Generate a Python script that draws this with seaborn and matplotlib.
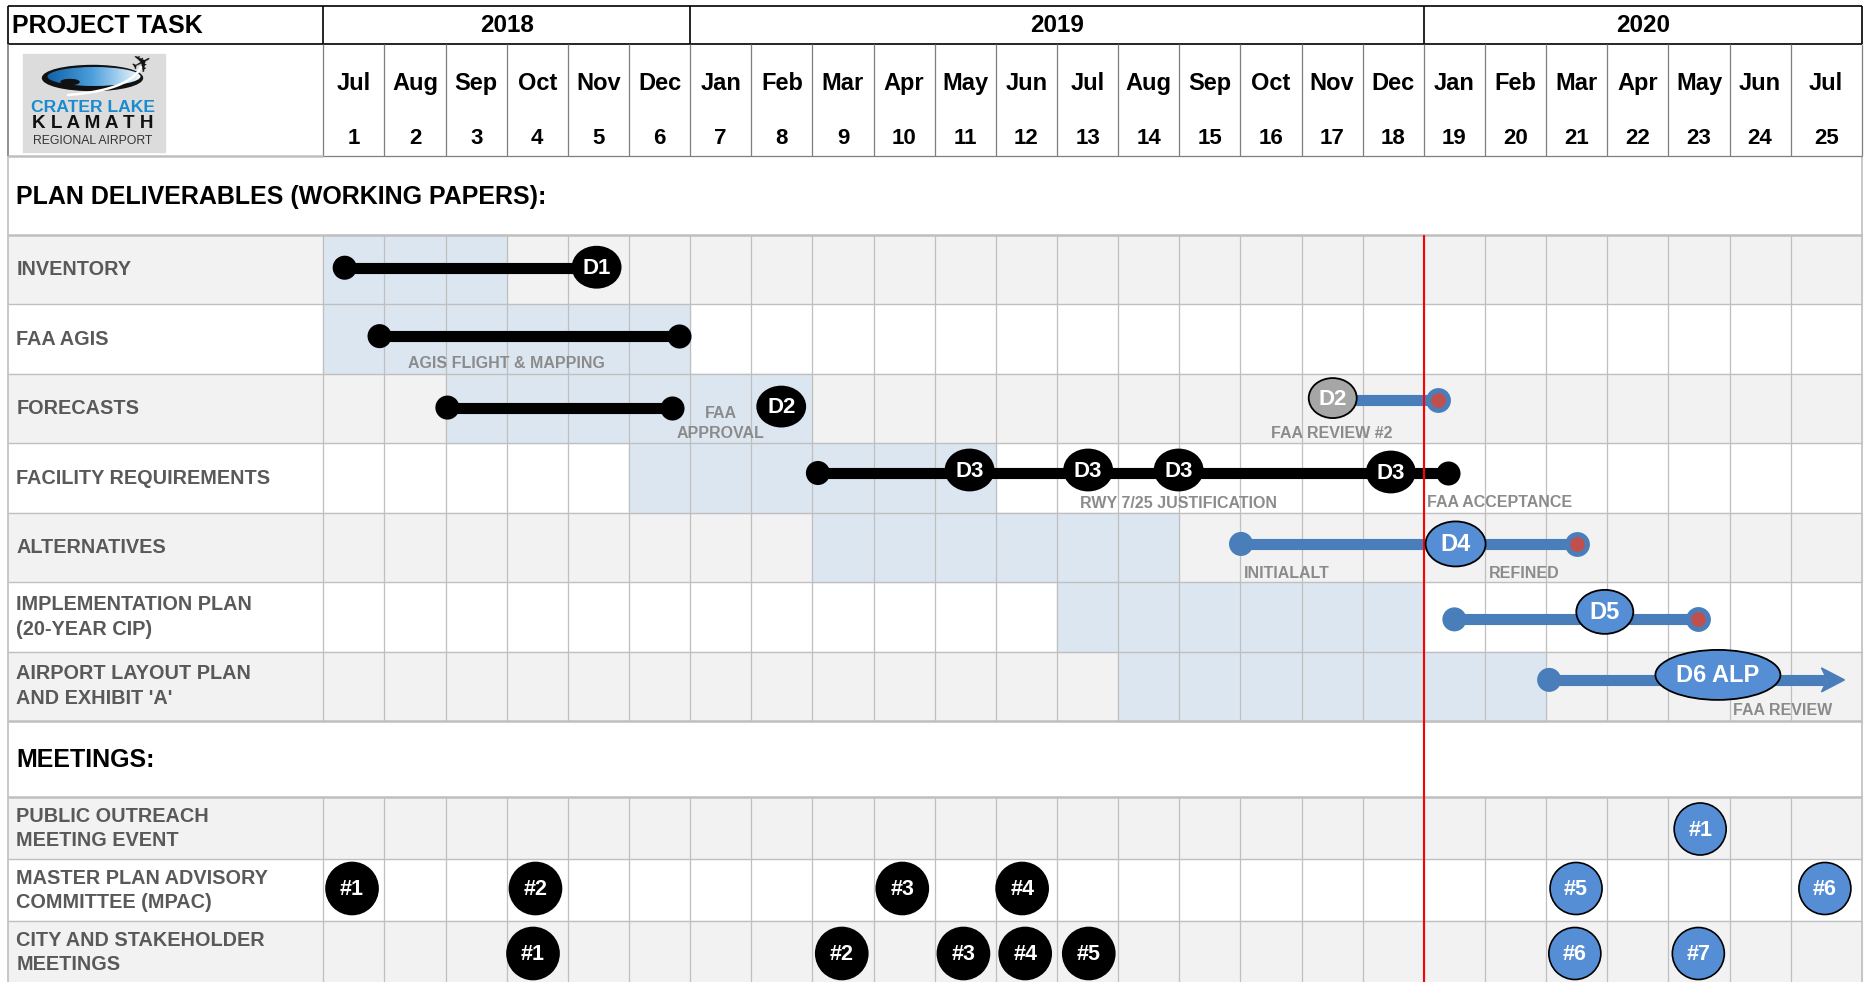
import matplotlib
matplotlib.use("Agg")
import matplotlib.pyplot as plt
from matplotlib.patches import Ellipse, Rectangle, Polygon
from matplotlib.colors import LinearSegmentedColormap
import numpy as np
import pandas as pd
import seaborn as sns

# ---------------- data ----------------
months = ["Jul", "Aug", "Sep", "Oct", "Nov", "Dec",
          "Jan", "Feb", "Mar", "Apr", "May", "Jun", "Jul", "Aug", "Sep", "Oct", "Nov", "Dec",
          "Jan", "Feb", "Mar", "Apr", "May", "Jun", "Jul"]
years = ["2018", "2019", "2020"]
year_first_col = [0, 6, 18]
today = 18  # status line = start of Jan 2020

tasks = ["INVENTORY", "FAA AGIS", "FORECASTS", "FACILITY REQUIREMENTS", "ALTERNATIVES",
         "IMPLEMENTATION PLAN\n(20-YEAR CIP)", "AIRPORT LAYOUT PLAN\nAND EXHIBIT 'A'"]
shade_start = [0, 0, 2, 5, 8, 12, 13]
shade_end = [3, 6, 8, 11, 14, 18, 20]

# schedule bars, in months from Jul 2018
bar_task = [0, 1, 2, 2, 3, 4, 5, 6]
bar_start = [0.35, 0.92, 2.03, 16.51, 8.09, 15.01, 18.50, 20.05]
bar_end = [4.47, 5.82, 5.70, 18.24, 18.39, 20.50, 22.49, 24.88]
bar_kind = ["done", "done", "done", "future", "done", "future", "future", "future"]
bar_start_dot = [True, True, True, False, True, True, True, True]
bar_end_mark = ["none", "dot", "dot", "red", "dot", "red", "red", "arrow"]

# deliverable milestones
ms_task = [0, 2, 2, 3, 3, 3, 3, 4, 5, 6]
ms_x = [4.47, 7.49, 16.51, 10.57, 12.51, 13.99, 17.46, 18.52, 20.96, 22.81]
ms_label = ["D1", "D2", "D2", "D3", "D3", "D3", "D3", "D4", "D5", "D6 ALP"]
ms_kind = ["done", "done", "review", "done", "done", "done", "done", "future", "future", "future"]

# notes under the bars
note_task = [1, 2, 2, 3, 3, 4, 4, 6]
note_x = [3.0, 6.50, 16.5, 13.99, 18.05, 15.05, 19.06, 23.06]
note_text = ["AGIS FLIGHT & MAPPING", "FAA\nAPPROVAL", "FAA REVIEW #2", "RWY 7/25 JUSTIFICATION",
             "FAA ACCEPTANCE", "INITIALALT", "REFINED", "FAA REVIEW"]
note_ha = ["center", "center", "center", "center", "left", "left", "left", "left"]

meetings = ["PUBLIC OUTREACH\nMEETING EVENT", "MASTER PLAN ADVISORY\nCOMMITTEE (MPAC)",
            "CITY AND STAKEHOLDER\nMEETINGS"]
public_x = [22.52]
mpac_x = [0.47, 3.47, 9.47, 11.43, 20.49, 24.56]
city_x = [3.43, 8.48, 10.47, 11.48, 12.52, 20.47, 22.49]
meeting_x = [public_x, mpac_x, city_x]

# ---------------- layout (pixels) ----------------
W, H = 1865, 982
X0, CW = 323.3, 61.14
LEFT, RIGHT = 7.5, 1861.7
TOP, HEAD1, HEAD2, SEC1 = 5.5, 44, 156, 235
TASK_H = 69.43
SEC2 = SEC1 + len(tasks) * TASK_H
MEET0, MEET_H = 797, 62


def u(px):
    return (px - X0) / CW


col_edges = list(range(25)) + [u(RIGHT)]
task_top = [SEC1 + i * TASK_H for i in range(len(tasks))]
task_c = [t + TASK_H / 2 for t in task_top]
meet_top = [MEET0 + i * MEET_H for i in range(len(meetings))]
meet_c = [t + MEET_H / 2 for t in meet_top]

bar_dy = [-2, -3, -1, -9, -5, -3.5, 2.5, -6.4]
ms_dy = [-2.5, -2, -10.5, -8, -8, -8, -6, -3.5, -5, -11.4]
note_dy = [-10, -19.3, -9.3, -9.3, -10, -9, -9, -11]
meet_dy = [1, -1.5, 1.5]
ms_size = {"D1": (48, 41), "D2": (48, 40), "D3": (48, 41), "D4": (60, 45),
           "D5": (57, 44), "D6 ALP": (125, 50)}

BLACK = "#000000"
BLUE_LINE = "#4A7EBB"
BLUE_FILL = "#558ED5"
RED_DOT = "#C0504D"
GRID = "#BFBFBF"
ROW_GRAY = "#F2F2F2"
SHADE = "#DCE6F1"
LABEL = "#595959"
NOTE = "#8B8B8B"

sns.set_theme(style="white")
plt.rcParams["font.family"] = ["Liberation Sans", "DejaVu Sans"]

fig = plt.figure(figsize=(W / 100, H / 100), dpi=100)
ax = fig.add_axes([0, 0, 1, 1])
xl, xr = u(LEFT), u(RIGHT)

# backgrounds
ax.add_patch(Rectangle((u(0), 0), u(W) - u(0), H, color="white", zorder=0))
for i in range(len(tasks)):
    ax.add_patch(Rectangle((xl, task_top[i]), xr - xl, TASK_H,
                           color=ROW_GRAY if i % 2 == 0 else "white", zorder=0.5))
    ax.add_patch(Rectangle((shade_start[i], task_top[i]), shade_end[i] - shade_start[i], TASK_H,
                           color=SHADE, zorder=0.6))
for i in range(len(meetings)):
    ax.add_patch(Rectangle((xl, meet_top[i]), xr - xl, MEET_H,
                           color=ROW_GRAY if i % 2 == 0 else "white", zorder=0.5))

# grid
ax.vlines(col_edges[:-1], SEC1, SEC2, color=GRID, lw=0.9, zorder=1)
ax.vlines(col_edges[:-1], MEET0, H, color=GRID, lw=0.9, zorder=1)
ax.hlines(task_top[1:], xl, xr, color=GRID, lw=1.0, zorder=1)
ax.hlines(meet_top[1:], xl, xr, color=GRID, lw=1.0, zorder=1)
ax.hlines([SEC1, SEC2, MEET0], xl, xr, color=GRID, lw=1.8, zorder=1.2)
ax.vlines([xl, xr], HEAD2, H, color=GRID, lw=1.2, zorder=1.2)

# header frame
ax.hlines([TOP, HEAD1], xl, xr, color=BLACK, lw=1.2, zorder=2)
ax.vlines([xl, 0, 6, 18, xr], TOP, HEAD1, color=BLACK, lw=1.2, zorder=2)
ax.vlines(col_edges, HEAD1, HEAD2, color="#7F7F7F", lw=0.9, zorder=2)
ax.vlines(xl, HEAD1, HEAD2, color="#7F7F7F", lw=1.2, zorder=2)
ax.hlines(HEAD2, xl, 0, color=GRID, lw=1.8, zorder=2)
ax.hlines(HEAD2, 0, xr, color="#7F7F7F", lw=0.9, zorder=2)

# header text
ax.text(u(12.5), (TOP + HEAD1) / 2 + 1, "PROJECT TASK", fontsize=18, fontweight="bold",
        ha="left", va="center", color=BLACK)
year_edges = year_first_col + [col_edges[-1]]
for k, yr in enumerate(years):
    ax.text((year_edges[k] + year_edges[k + 1]) / 2, (TOP + HEAD1) / 2 + 1, yr,
            fontsize=17.5, fontweight="bold", ha="center", va="center", color=BLACK)
for k, m in enumerate(months):
    cx = (col_edges[k] + col_edges[k + 1]) / 2
    ax.text(cx, 83, m, fontsize=17, fontweight="bold", ha="center", va="center", color=BLACK)
    ax.text(cx, 138, str(k + 1), fontsize=16, fontweight="bold", ha="center", va="center",
            color=BLACK)

# logo
ax.add_patch(Rectangle((u(22.7), 54), (165 - 22.7) / CW, 97.7, color="#DCDCDC", zorder=2))
ax.add_patch(Ellipse((u(92.5), 78), 100 / CW, 25, color="#111111", zorder=2.1))
lake = Ellipse((u(94), 76.5), 93 / CW, 19, facecolor="none", edgecolor="none", zorder=2.2)
ax.add_patch(lake)
grad = ax.imshow(np.linspace(0, 1, 64)[None, :],
                 cmap=LinearSegmentedColormap.from_list("lake", ["#0D5DA6", "#4FA0DD", "#F4FAFF"]),
                 extent=(u(44), u(142), 87, 66), aspect="auto", zorder=2.2)
grad.set_clip_path(lake)
ax.add_patch(Ellipse((u(70), 82), 18 / CW, 5, color="#111111", zorder=2.3))
t = np.linspace(0, 1, 30)
sx = (1 - t) ** 2 * 68 + 2 * (1 - t) * t * 130 + t ** 2 * 141
sy = (1 - t) ** 2 * 95 + 2 * (1 - t) * t * 90 + t ** 2 * 67
ax.plot(u(sx), sy, color="white", lw=1.8, zorder=2.4)
ax.text(u(143), 64.5, "\u2708", family="DejaVu Sans", fontsize=18, rotation=28,
        ha="center", va="center", color="#111111", zorder=2.5)
ax.text(u(93), 107, "CRATER LAKE", fontsize=12.6, fontweight="bold", color="#1A8BD0",
        ha="center", va="center", zorder=2.5)
ax.text(u(93), 123.5, "K L A M A T H", fontsize=13.6, fontweight="bold", color="#111111",
        ha="center", va="center", zorder=2.5)
ax.text(u(93), 140.5, "REGIONAL AIRPORT", fontsize=8.8, color="#333333",
        ha="center", va="center", zorder=2.5)


def stacked(x, yc, text, gap, **kw):
    lines = text.split("\n")
    n = len(lines)
    for k, line in enumerate(lines):
        ax.text(x, yc + (k - (n - 1) / 2) * gap, line, va="center", **kw)


# section + row labels
ax.text(u(16.5), (HEAD2 + SEC1) / 2 + 1, "PLAN DELIVERABLES (WORKING PAPERS):", fontsize=18,
        fontweight="bold", ha="left", va="center", color=BLACK)
ax.text(u(16.5), (SEC2 + MEET0) / 2 + 1, "MEETINGS:", fontsize=18, fontweight="bold",
        ha="left", va="center", color=BLACK)
for i, name in enumerate(tasks):
    stacked(u(16.5), task_c[i], name, 25, fontsize=14.3, fontweight="bold", color=LABEL,
            ha="left", zorder=3)
for i, name in enumerate(meetings):
    stacked(u(16.5), meet_c[i], name, 24, fontsize=14.3, fontweight="bold", color=LABEL,
            ha="left", zorder=3)

# status line
ax.vlines(today, SEC1, H, color="#FF0000", lw=1.5, zorder=4)

# bars
head_len = 23 / CW
rows = []
for i in range(len(bar_task)):
    y = task_c[bar_task[i]] + bar_dy[i]
    end = bar_end[i] - head_len * 0.8 if bar_end_mark[i] == "arrow" else bar_end[i]
    rows.append({"bar": i, "x": bar_start[i], "y": y, "kind": bar_kind[i]})
    rows.append({"bar": i, "x": end, "y": y, "kind": bar_kind[i]})
seg = pd.DataFrame(rows)
sns.lineplot(data=seg, x="x", y="y", units="bar", estimator=None, hue="kind",
             palette={"done": BLACK, "future": BLUE_LINE}, linewidth=8, sort=False,
             legend=False, ax=ax, zorder=3, solid_capstyle="butt")

bar_y = [task_c[bar_task[i]] + bar_dy[i] for i in range(len(bar_task))]
bar_col = [BLACK if k == "done" else BLUE_LINE for k in bar_kind]
sx_ = [bar_start[i] for i in range(len(bar_task)) if bar_start_dot[i]]
sy_ = [bar_y[i] for i in range(len(bar_task)) if bar_start_dot[i]]
sc_ = [bar_col[i] for i in range(len(bar_task)) if bar_start_dot[i]]
sns.scatterplot(x=sx_, y=sy_, c=sc_, s=300, linewidth=0, ax=ax, zorder=5, legend=False)
idx_dot = [i for i in range(len(bar_task)) if bar_end_mark[i] == "dot"]
sns.scatterplot(x=[bar_end[i] for i in idx_dot], y=[bar_y[i] for i in idx_dot], color=BLACK,
                s=300, linewidth=0, ax=ax, zorder=5, legend=False)
idx_red = [i for i in range(len(bar_task)) if bar_end_mark[i] == "red"]
sns.scatterplot(x=[bar_end[i] for i in idx_red], y=[bar_y[i] for i in idx_red],
                color=BLUE_LINE, s=320, linewidth=0, ax=ax, zorder=5, legend=False)
sns.scatterplot(x=[bar_end[i] for i in idx_red], y=[bar_y[i] for i in idx_red],
                color=RED_DOT, s=115, linewidth=0, ax=ax, zorder=5.5, legend=False)
for i in range(len(bar_task)):
    if bar_end_mark[i] == "arrow":
        tip = bar_end[i]
        ax.add_patch(Polygon([(tip, bar_y[i]), (tip - head_len, bar_y[i] - 12),
                              (tip - head_len * 0.75, bar_y[i]),
                              (tip - head_len, bar_y[i] + 12)],
                             closed=True, color=BLUE_LINE, zorder=3.5))

# milestones
ms_face = {"done": BLACK, "review": "#A6A6A6", "future": BLUE_FILL}
ms_font = {"done": 16, "review": 16, "future": 17}
for i in range(len(ms_x)):
    w, h = ms_size[ms_label[i]]
    y = task_c[ms_task[i]] + ms_dy[i]
    ax.add_patch(Ellipse((ms_x[i], y), w / CW, h, facecolor=ms_face[ms_kind[i]],
                         edgecolor=BLACK, lw=1.3, zorder=6))
    ax.text(ms_x[i], y + 1, ms_label[i], fontsize=ms_font[ms_kind[i]], fontweight="bold",
            color="white", ha="center", va="center", zorder=7)

# notes
for i in range(len(note_x)):
    yb = task_top[note_task[i]] + TASK_H + note_dy[i]
    stacked(note_x[i], yb, note_text[i], 20, fontsize=11.5, fontweight="bold", color=NOTE,
            ha=note_ha[i], zorder=4)

# meetings
for r, xs in enumerate(meeting_x):
    y = meet_c[r] + meet_dy[r]
    for k, x in enumerate(xs):
        face = BLACK if x < today else BLUE_FILL
        ax.add_patch(Ellipse((x, y), 52 / CW, 52, facecolor=face, edgecolor=BLACK, lw=1.2,
                             zorder=6))
        ax.text(x, y + 1, "#%d" % (k + 1), fontsize=15.5, fontweight="bold", color="white",
                ha="center", va="center", zorder=7)

ax.set_xlim(u(0), u(W))
ax.set_ylim(H, 0)
ax.axis("off")
fig.savefig("out.png", dpi=100)
